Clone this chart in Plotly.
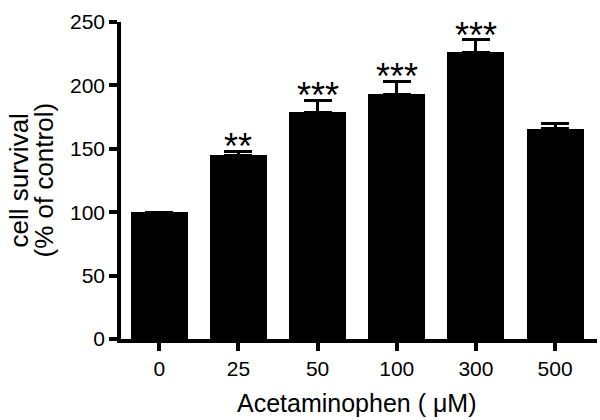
import plotly.graph_objects as go

categories = ["0", "25", "50", "100", "300", "500"]
survival = [100, 145, 179, 193, 226, 166]
sem = [0, 3, 9, 10, 10, 4]
significance = ["", "**", "***", "***", "***", ""]
y_ticks = [0, 50, 100, 150, 200, 250]

FONT = "Liberation Sans, Arial, sans-serif"
xs = list(range(len(categories)))

fig = go.Figure()
fig.add_trace(go.Bar(
    x=xs, y=survival, width=0.72,
    marker=dict(color="black", line=dict(width=0)),
    error_y=dict(type="data", symmetric=False, array=sem,
                 arrayminus=[0] * len(sem), color="black",
                 thickness=3, width=14),
    showlegend=False, hoverinfo="skip",
))

for x, v, e, s in zip(xs, survival, sem, significance):
    if s:
        fig.add_annotation(x=x, y=v + e + 10, text=s, showarrow=False,
                           xref="x", yref="y", yanchor="middle", yshift=-8,
                           font=dict(family=FONT, size=36, color="black"))

# axis titles
fig.add_annotation(x=2.5, xref="x", y=0, yref="paper", yanchor="middle",
                   yshift=-64, text="Acetaminophen ( μM)", showarrow=False,
                   font=dict(family=FONT, size=25, color="black"))
fig.add_annotation(x=0, xref="paper", xanchor="center", xshift=-103,
                   y=0.5, yref="paper", yanchor="middle", textangle=-90,
                   text="cell survival", showarrow=False,
                   font=dict(family=FONT, size=26, color="black"))
fig.add_annotation(x=0, xref="paper", xanchor="center", xshift=-78,
                   y=0.5, yref="paper", yanchor="middle", textangle=-90,
                   text="(% of control)", showarrow=False,
                   font=dict(family=FONT, size=26, color="black"))

fig.update_layout(
    width=600, height=420,
    margin=dict(l=121, r=3, t=22, b=81),
    paper_bgcolor="white", plot_bgcolor="white",
    font=dict(family=FONT, color="black"),
    bargap=0,
)
fig.update_xaxes(
    range=[-0.484, 5.53], tickmode="array", tickvals=xs, ticktext=categories,
    showline=True, linecolor="black", linewidth=3.5,
    ticks="outside", ticklen=8, tickwidth=3.5, tickcolor="black",
    showgrid=False, zeroline=False, tickfont=dict(family=FONT, size=21),
    automargin=False,
)
fig.update_yaxes(
    range=[0, 250], tickmode="array", tickvals=y_ticks,
    showline=True, linecolor="black", linewidth=3.5,
    ticks="outside", ticklen=8, tickwidth=3.5, tickcolor="black",
    showgrid=False, zeroline=False, tickfont=dict(family=FONT, size=21),
    automargin=False,
)

fig.write_html(
    "out.html",
    config={"displayModeBar": False},
    post_script="document.body.style.margin='0';document.body.style.overflow='hidden';",
)
